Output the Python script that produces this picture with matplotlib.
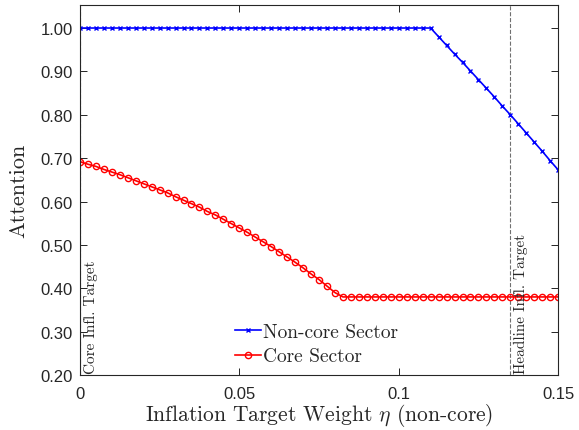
import numpy as np
import matplotlib
matplotlib.use("Agg")
import matplotlib.pyplot as plt

# inflation target weight grid (non-core), step 0.0025
eta = np.linspace(0, 0.15, 61)

noncore = [1.0] * 45 + [0.980, 0.960, 0.940, 0.921, 0.901, 0.881, 0.861, 0.841,
                        0.820, 0.800, 0.779, 0.758, 0.737, 0.716, 0.694, 0.673]
core = [0.692, 0.686, 0.681, 0.674, 0.668, 0.662, 0.655, 0.648, 0.641, 0.634,
        0.627, 0.620, 0.611, 0.603, 0.595, 0.587, 0.577, 0.569, 0.559, 0.549,
        0.539, 0.529, 0.518, 0.507, 0.496, 0.484, 0.472, 0.460, 0.447, 0.433,
        0.420, 0.405, 0.390] + [0.38] * 28

core_target = 0.0
headline_target = 0.135

yticks = [0.2, 0.3, 0.4, 0.5, 0.6, 0.7, 0.8, 0.9, 1.0]
xticks = [0, 0.05, 0.1, 0.15]
xticklabels = ["0", "0.05", "0.1", "0.15"]

plt.rcParams["mathtext.fontset"] = "cm"
serif = "cmr10"
txt = "#262626"

fig = plt.figure(figsize=(5.79, 4.31), dpi=100)
ax = fig.add_axes([0.138, 0.1276, 0.826, 0.8584])

ax.axvline(core_target, color="#707070", ls="--", lw=0.8)
ax.axvline(headline_target, color="#707070", ls="--", lw=0.8)

ax.plot(eta, noncore, color="blue", lw=1.2, marker="x", ms=3.5, mew=1.0,
        label="Non-core Sector")
ax.plot(eta, core, color="red", lw=1.2, marker="o", ms=4.5, mew=1.0,
        mfc="none", label="Core Sector")

ax.text(0.0012, 0.205, "Core Infl. Target", rotation=90, ha="left", va="bottom",
        family=serif, fontsize=11, color=txt)
ax.text(headline_target + 0.0012, 0.205, "Headline Infl. Target", rotation=90,
        ha="left", va="bottom", family=serif, fontsize=11, color=txt)

ax.set_xlim(0, 0.15)
ax.set_ylim(0.2, 1.053)
ax.set_xticks(xticks)
ax.set_xticklabels(xticklabels)
ax.set_yticks(yticks)
ax.set_yticklabels([f"{v:.2f}" for v in yticks])
ax.tick_params(direction="in", top=True, right=True, labelsize=12,
               labelcolor=txt, length=5, width=0.6)
ax.tick_params(axis="x", pad=8)
ax.tick_params(axis="y", pad=5)
for lab in ax.get_xticklabels() + ax.get_yticklabels():
    lab.set_family("Liberation Sans")
for s in ax.spines.values():
    s.set_linewidth(0.8)
    s.set_color(txt)

ax.set_xlabel(r"Inflation Target Weight $\eta$ (non-core)", family=serif,
              fontsize=15.5, color=txt, labelpad=0)
ax.set_ylabel("Attention", family=serif, fontsize=16, color=txt, labelpad=9)

leg = ax.legend(loc="lower left", bbox_to_anchor=(0.324, 0.026), frameon=False,
                prop={"family": serif, "size": 14}, handlelength=1.32,
                handletextpad=0.13, labelspacing=0.35, borderpad=0,
                borderaxespad=0)
for t in leg.get_texts():
    t.set_color(txt)

fig.savefig("out.png", dpi=100)
